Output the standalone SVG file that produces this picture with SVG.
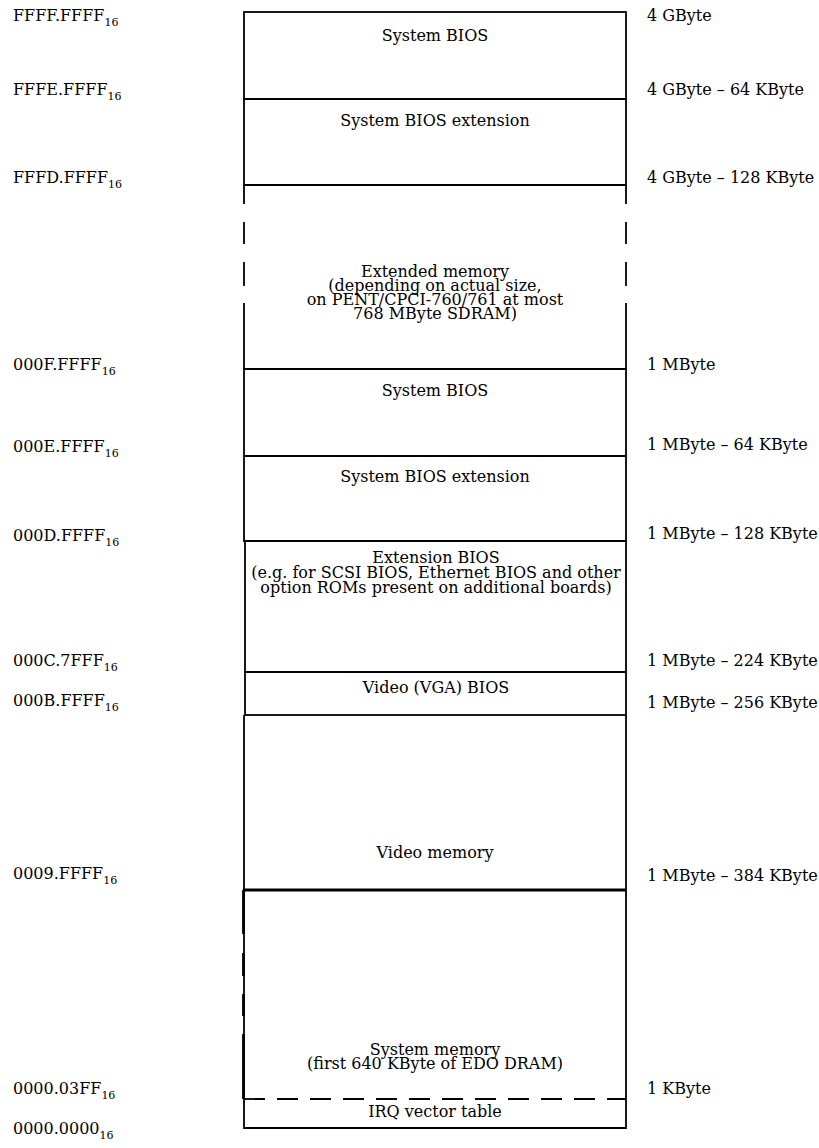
<svg xmlns="http://www.w3.org/2000/svg" width="819" height="1148" viewBox="0 0 819 1148">
<style>
text{font-family:"DejaVu Serif","Liberation Serif",serif;font-size:16px;fill:#000}
.c{text-anchor:middle}
.sub{font-size:11px}
.ln{fill:none;stroke:#000;stroke-width:1.8}
.thick{fill:none;stroke:#000;stroke-width:2.8}
.dash{fill:none;stroke:#000;stroke-width:1.8;stroke-dasharray:21 12}
</style>
<rect width="819" height="1148" fill="#fff"/>
<g id="addresses">
<text x="13" y="21">FFFF.FFFF<tspan class="sub" dy="5">16</tspan></text>
<text x="13" y="95">FFFE.FFFF<tspan class="sub" dy="5">16</tspan></text>
<text x="13" y="183">FFFD.FFFF<tspan class="sub" dy="5">16</tspan></text>
<text x="13" y="370">000F.FFFF<tspan class="sub" dy="5">16</tspan></text>
<text x="13" y="452">000E.FFFF<tspan class="sub" dy="5">16</tspan></text>
<text x="13" y="541">000D.FFFF<tspan class="sub" dy="5">16</tspan></text>
<text x="13" y="666">000C.7FFF<tspan class="sub" dy="5">16</tspan></text>
<text x="13" y="706">000B.FFFF<tspan class="sub" dy="5">16</tspan></text>
<text x="13" y="879">0009.FFFF<tspan class="sub" dy="5">16</tspan></text>
<text x="13" y="1094">0000.03FF<tspan class="sub" dy="5">16</tspan></text>
<text x="13" y="1134">0000.0000<tspan class="sub" dy="5">16</tspan></text>
</g>
<g id="sizes">
<text x="647" y="21">4 GByte</text>
<text x="647" y="95">4 GByte – 64 KByte</text>
<text x="647" y="183">4 GByte – 128 KByte</text>
<text x="647" y="370">1 MByte</text>
<text x="647" y="450">1 MByte – 64 KByte</text>
<text x="647" y="539">1 MByte – 128 KByte</text>
<text x="647" y="666">1 MByte – 224 KByte</text>
<text x="647" y="708">1 MByte – 256 KByte</text>
<text x="647" y="881">1 MByte – 384 KByte</text>
<text x="647" y="1094">1 KByte</text>
</g>
<g id="system-bios-top">
<rect class="ln" x="244" y="12" width="382" height="87"/>
<text class="c" x="435" y="41">System BIOS</text>
</g>
<g id="system-bios-extension-top">
<rect class="ln" x="244" y="99" width="382" height="86"/>
<text class="c" x="435" y="126">System BIOS extension</text>
</g>
<g id="extended-memory">
<path class="ln" d="M244 185H626M244 369H626M244 185V204M244 222V244M244 262V286M244 303V369M626 185V204M626 222V244M626 262V286M626 303V369"/>
<text class="c" x="435" y="277">Extended memory</text>
<text class="c" x="435" y="291">(depending on actual size,</text>
<text class="c" x="435" y="305">on PENT/CPCI-760/761 at most</text>
<text class="c" x="435" y="319">768 MByte SDRAM)</text>
</g>
<g id="system-bios">
<rect class="ln" x="244" y="369" width="382" height="87"/>
<text class="c" x="435" y="396">System BIOS</text>
</g>
<g id="system-bios-extension">
<rect class="ln" x="244" y="456" width="382" height="85"/>
<text class="c" x="435" y="482">System BIOS extension</text>
</g>
<g id="extension-bios">
<rect class="ln" x="245" y="541" width="381" height="131"/>
<text class="c" x="436" y="563">Extension BIOS</text>
<text class="c" x="436" y="578">(e.g. for SCSI BIOS, Ethernet BIOS and other</text>
<text class="c" x="436" y="593">option ROMs present on additional boards)</text>
</g>
<g id="video-bios">
<rect class="ln" x="245" y="672" width="381" height="43"/>
<text class="c" x="436" y="693">Video (VGA) BIOS</text>
</g>
<g id="video-memory">
<path class="ln" d="M244 715V890M626 715V890"/>
<text class="c" x="435" y="858">Video memory</text>
</g>
<g id="system-memory">
<path class="thick" d="M243 890H626"/>
<path class="ln" d="M626 890V1099M244 890V1099"/>
<path fill="none" stroke="#000" stroke-width="2.6" stroke-dasharray="44 19 23 18 22 18 66" d="M243.4 890V1099"/>
<path class="dash" d="M244 1099H626"/>
<text class="c" x="435" y="1055">System memory</text>
<text class="c" x="435" y="1069">(first 640 KByte of EDO DRAM)</text>
</g>
<g id="irq-vector-table">
<path class="ln" d="M244 1099V1128H626V1099"/>
<text class="c" x="435" y="1117">IRQ vector table</text>
</g>
<g id="connectors"/>
</svg>
